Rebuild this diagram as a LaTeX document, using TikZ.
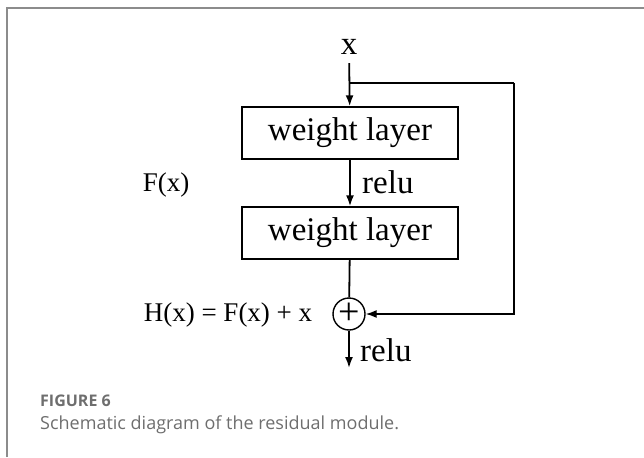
\documentclass[tikz,border=0pt]{standalone}
\usepackage{fontspec}
\newfontfamily\capfont{Open Sans}
\newfontfamily\diagfont{Liberation Serif}
\usetikzlibrary{arrows.meta}
\definecolor{capgray}{HTML}{6E6E6E}
\definecolor{framegray}{HTML}{8C8C8C}
\tikzset{
  layerbox/.style={draw,line width=1.4pt,minimum width=216pt,minimum height=52pt,inner sep=0pt,font=\diagfont\fontsize{33}{35}\selectfont},
  flow/.style={line width=1.8pt,-{Latex[length=11pt,width=8pt]}},
  bigtext/.style={font=\diagfont\fontsize{33}{35}\selectfont},
  eqtext/.style={font=\diagfont\fontsize{27}{30}\selectfont}
}
\begin{document}
\begin{tikzpicture}[x=1pt,y=-1pt]
\useasboundingbox (0,0) rectangle (644,457);
\draw[framegray,line width=1.5pt] (7,457) -- (7,8) -- (644,8);
\node[bigtext] (xin) at (349,47) {x};
\node[layerbox] (w1) at (350,133) {weight layer};
\node[layerbox] (w2) at (350,233) {weight layer};
\node[draw,circle,line width=1.4pt,minimum size=32pt,inner sep=0pt,font=\diagfont\fontsize{38}{40}\selectfont] (add) at (349,314) {+};
\coordinate (split) at (349,83);
\coordinate (corner) at (514,83);
\coordinate (out) at (349,368);
\draw[flow,shorten <=5pt] (xin) -- (w1);
\draw[line width=1.4pt] (split) -- (corner);
\draw[flow,line width=1.4pt] (corner) |- (add.east);
\draw[flow] (w1) -- (w2);
\draw[line width=1.8pt] (w2) -- (add);
\draw[flow] (add) -- (out);
\node[bigtext,anchor=west,inner sep=0pt] (relu1) at (362,182) {relu};
\node[bigtext,anchor=west,inner sep=0pt] (relu2) at (360,350) {relu};
\node[eqtext] (fx) at (166,185) {F(x)};
\node[eqtext] (hx) at (228,315) {H(x) = F(x) + x};
\node[anchor=west,inner sep=0pt,text=capgray,font=\capfont\bfseries\fontsize{16}{18}\selectfont] (fig) at (40,401) {FIGURE 6};
\node[anchor=west,inner sep=0pt,text=capgray,font=\capfont\fontsize{18}{21}\selectfont] (cap) at (40,425) {Schematic diagram of the residual module.};
\end{tikzpicture}
\end{document}
